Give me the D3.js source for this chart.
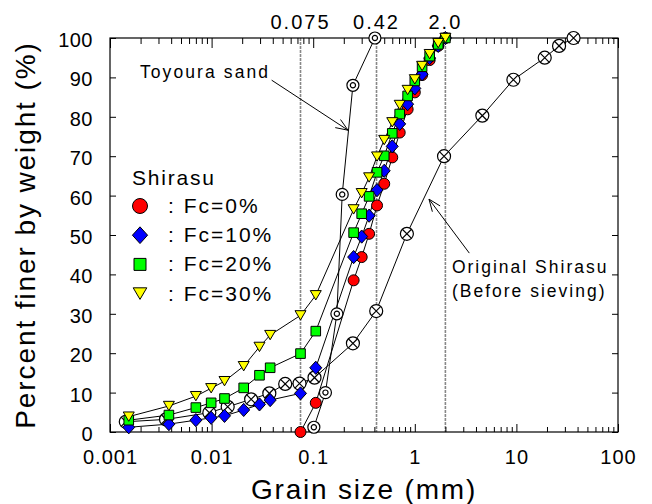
<!DOCTYPE html>
<html>
<head>
<meta charset="utf-8">
<script src="https://cdn.jsdelivr.net/npm/d3@7"></script>
<style>
  body { margin: 0; background: #fff; }
  svg { font-family: "Liberation Sans", Arial, sans-serif; }
  .axis text { font-size: 20px; letter-spacing: 1px; fill: #000; }
  .axis line { stroke: #000; stroke-width: 1; }
  .axis path { display: none; }
  .link { fill: none; stroke: #000; stroke-width: 1; }
  .ref { stroke: #888; stroke-width: 1.6; stroke-dasharray: 3,1; }
</style>
</head>
<body>
<div id="chart"></div>
<script>
var width = 652,
    height = 504,
    plotLeft = 110, plotRight = 618, plotTop = 38, plotBottom = 432;

// sieve openings (mm) used for the Fc samples, and hydrometer sizes below 0.075
var sieveSizes = [2.0, 1.7, 1.4, 1.18, 1.0, 0.85, 0.71, 0.6, 0.5, 0.425, 0.355, 0.3, 0.25, 0.106, 0.075];
var hydroSizes = [0.0377, 0.0296, 0.0207, 0.0134, 0.0099, 0.0070, 0.0038, 0.00153];

var fc0 = [100, 98, 94.4, 90.6, 86.2, 81.9, 76, 69.7, 63, 57.5, 50.3, 44.4, 38.5, 7.4, 0];
var fc10 = [100, 98, 94.9, 90.8, 87.2, 83.2, 78.2, 72.5, 66.3, 61.4, 54.9, 49.6, 44.4, 16.3, 9.8];
var fc20 = [100, 98.4, 95.4, 92.7, 89.1, 85.3, 80.7, 75.8, 70.1, 65.9, 59.8, 55.4, 50.6, 25.6, 19.9];
var fc30 = [100, 98.7, 95.9, 92.9, 89.5, 86.8, 83, 78.6, 74.1, 69.9, 64.6, 60.6, 56.5, 34.7, 29.6];
var fc10Fines = [8.1, 7.0, 5.6, 4.1, 3.6, 3.0, 2.0, 1.2];
var fc20Fines = [16.3, 14.4, 11.2, 8.5, 7.4, 6.2, 4.3, 3.0];
var fc30Fines = [24.6, 21.6, 16.7, 12.9, 11.1, 9.1, 6.6, 3.9];

var toyouraSize = [0.405, 0.246, 0.193, 0.171, 0.132, 0.1015];
var toyouraPass = [100, 88, 60.3, 30, 10, 1.2];

var originalSize = [36.5, 26.3, 19, 9.34, 4.62, 1.94, 0.836, 0.417, 0.246, 0.103, 0.0733, 0.053, 0.037, 0.0245, 0.0144, 0.0095, 0.00356, 0.00143];
var originalPass = [100, 98, 95, 89.4, 80.3, 70, 50.3, 30.7, 22.5, 13.8, 12.3, 12.2, 9.8, 8.3, 6.4, 4.9, 3.2, 2.6];

var refSizes = [0.075, 0.42, 2.0];
var refLabels = ["0.075", "0.42", "2.0"];
var xTicks = [0.001, 0.01, 0.1, 1, 10, 100];
var xTickLabels = ["0.001", "0.01", "0.1", "1", "10", "100"];
var yTicks = [0, 10, 20, 30, 40, 50, 60, 70, 80, 90, 100];

var legendNames = [": Fc=0%", ": Fc=10%", ": Fc=20%", ": Fc=30%"];
var legendColors = ["#ff0000", "#0000ff", "#00ff00", "#ffff00"];
var legendShapes = ["circle", "diamond", "square", "triangle"];

var x = d3.scaleLog().domain([0.001, 100]).range([plotLeft, plotRight]);
var y = d3.scaleLinear().domain([0, 100]).range([plotBottom, plotTop]);

var svg = d3.select("#chart").append("svg")
    .attr("width", width)
    .attr("height", height);

function zip(xs, ys) {
    return xs.map(function (d, i) { return [d, ys[i]]; });
}

function minorTicks() {
    var t = [];
    for (var e = -3; e < 2; e++)
        for (var m = 2; m <= 9; m++) t.push(m * Math.pow(10, e));
    return t;
}

// reference lines at 0.075, 0.42 and 2.0 mm
svg.append("g").selectAll("line")
    .data(refSizes)
  .enter().append("line")
    .attr("class", "ref")
    .attr("x1", function (d) { return x(d); })
    .attr("x2", function (d) { return x(d); })
    .attr("y1", plotTop)
    .attr("y2", plotBottom);

svg.append("g").selectAll("text")
    .data(refSizes)
  .enter().append("text")
    .attr("x", function (d) { return x(d); })
    .attr("y", 29)
    .attr("text-anchor", "middle")
    .style("font-size", "20px")
    .style("letter-spacing", "2px")
    .text(function (d, i) { return refLabels[i]; });

// axes (ticks point inward)
svg.append("g").attr("class", "axis")
    .attr("transform", "translate(0," + plotBottom + ")")
    .call(d3.axisBottom(x).tickValues(xTicks).tickSize(-8).tickSizeOuter(0).tickPadding(18)
        .tickFormat(function (d, i) { return xTickLabels[i]; }));
svg.append("g").attr("class", "axis")
    .attr("transform", "translate(0," + plotBottom + ")")
    .call(d3.axisBottom(x).tickValues(minorTicks()).tickSize(-5).tickSizeOuter(0).tickFormat(""));
svg.append("g").attr("class", "axis")
    .attr("transform", "translate(0," + plotTop + ")")
    .call(d3.axisTop(x).tickValues(xTicks).tickSize(-10).tickSizeOuter(0).tickFormat(""));
svg.append("g").attr("class", "axis")
    .attr("transform", "translate(0," + plotTop + ")")
    .call(d3.axisTop(x).tickValues(minorTicks()).tickSize(-6).tickSizeOuter(0).tickFormat(""));

var yAxis = svg.append("g").attr("class", "axis")
    .attr("transform", "translate(" + plotLeft + ",0)")
    .call(d3.axisLeft(y).tickValues(yTicks).tickSize(-6).tickSizeOuter(0).tickPadding(17));
yAxis.selectAll("text").attr("dy", "0.42em").style("letter-spacing", "0.5px");
svg.append("g").attr("class", "axis")
    .attr("transform", "translate(" + plotRight + ",0)")
    .call(d3.axisRight(y).tickValues(yTicks).tickSize(-6).tickSizeOuter(0).tickFormat(""));

svg.append("rect")
    .attr("x", plotLeft).attr("y", plotTop)
    .attr("width", plotRight - plotLeft).attr("height", plotBottom - plotTop)
    .attr("fill", "none").attr("stroke", "#000").attr("stroke-width", 1.2);

// axis titles
svg.append("text")
    .attr("x", (plotLeft + plotRight) / 2)
    .attr("y", 499)
    .attr("text-anchor", "middle")
    .style("font-size", "28px")
    .style("letter-spacing", "1.8px")
    .text("Grain size (mm)");

svg.append("text")
    .attr("transform", "translate(35," + (plotTop + plotBottom) / 2 + ")rotate(-90)")
    .attr("text-anchor", "middle")
    .style("font-size", "28px")
    .style("letter-spacing", "1.9px")
    .text("Percent finer by weight (%)");

// marker shapes
var shapes = {
    circle: function (r) { return d3.symbol(d3.symbolCircle, Math.PI * r * r)(); },
    square: function (r) { return "M" + -r + "," + -r + "H" + r + "V" + r + "H" + -r + "Z"; },
    diamond: function (r) { return "M0," + -r * 1.1 + "L" + r + ",0L0," + r * 1.1 + "L" + -r + ",0Z"; },
    triangle: function (r) { return "M" + -r + "," + -r * 0.85 + "H" + r + "L0," + r * 0.85 + "Z"; }
};

var line = d3.line()
    .x(function (d) { return x(d[0]); })
    .y(function (d) { return y(d[1]); });

var series = [
    { pts: zip(sieveSizes, fc0), color: legendColors[0], shape: "circle", r: 5.5 },
    { pts: zip(sieveSizes, fc10).concat(zip(hydroSizes, fc10Fines)), color: legendColors[1], shape: "diamond", r: 6 },
    { pts: zip(sieveSizes, fc20).concat(zip(hydroSizes, fc20Fines)), color: legendColors[2], shape: "square", r: 4.8 },
    { pts: zip(sieveSizes, fc30).concat(zip(hydroSizes, fc30Fines)), color: legendColors[3], shape: "triangle", r: 5.5 }
];

var original = zip(originalSize, originalPass);
var toyoura = zip(toyouraSize, toyouraPass);

// lines first
svg.append("g").selectAll("path")
    .data([original, toyoura].concat(series.map(function (s) { return s.pts; })))
  .enter().append("path")
    .attr("class", "link")
    .attr("d", line);

// original Shirasu: circle with a cross
var og = svg.append("g").selectAll("g")
    .data(original)
  .enter().append("g")
    .attr("transform", function (d) { return "translate(" + x(d[0]) + "," + y(d[1]) + ")"; });
og.append("circle").attr("r", 6.5).attr("fill", "#fff").attr("stroke", "#000").attr("stroke-width", 1.2);
og.append("path").attr("d", "M-4.6,-4.6L4.6,4.6M-4.6,4.6L4.6,-4.6").attr("stroke", "#000").attr("stroke-width", 1.2);

// Toyoura sand: double circle
var tg = svg.append("g").selectAll("g")
    .data(toyoura)
  .enter().append("g")
    .attr("transform", function (d) { return "translate(" + x(d[0]) + "," + y(d[1]) + ")"; });
tg.append("circle").attr("r", 6).attr("fill", "#fff").attr("stroke", "#000").attr("stroke-width", 1.2);
tg.append("circle").attr("r", 2.6).attr("fill", "none").attr("stroke", "#000").attr("stroke-width", 1.2);

series.forEach(function (s) {
    svg.append("g").selectAll("path")
        .data(s.pts)
      .enter().append("path")
        .attr("transform", function (d) { return "translate(" + x(d[0]) + "," + y(d[1]) + ")"; })
        .attr("d", shapes[s.shape](s.r))
        .attr("fill", s.color)
        .attr("stroke", "#000")
        .attr("stroke-width", 1);
});

// legend
svg.append("text")
    .attr("x", 132).attr("y", 185)
    .style("font-size", "21px")
    .style("letter-spacing", "1.8px")
    .text("Shirasu");

var legendR = [7.5, 7.6, 6, 6.8];
var legend = svg.append("g").selectAll("g")
    .data(legendNames)
  .enter().append("g")
    .attr("transform", function (d, i) { return "translate(140," + (206 + i * 29.2) + ")"; });
legend.append("path")
    .attr("d", function (d, i) { return shapes[legendShapes[i]](legendR[i]); })
    .attr("fill", function (d, i) { return legendColors[i]; })
    .attr("stroke", "#000")
    .attr("stroke-width", 1);
legend.append("text")
    .attr("x", 28).attr("y", 7)
    .style("font-size", "21px")
    .style("letter-spacing", "2px")
    .text(function (d) { return d; });

// annotations with open arrowheads
function arrow(from, to) {
    var x1 = x(from[0]), y1 = y(from[1]), x2 = x(to[0]), y2 = y(to[1]);
    var a = Math.atan2(y2 - y1, x2 - x1), len = 13, spread = 0.38;
    var g = svg.append("g").attr("stroke", "#000").attr("stroke-width", 1).attr("fill", "none");
    g.append("line").attr("x1", x1).attr("y1", y1).attr("x2", x2).attr("y2", y2);
    g.append("path").attr("d",
        "M" + (x2 - len * Math.cos(a - spread)) + "," + (y2 - len * Math.sin(a - spread)) +
        "L" + x2 + "," + y2 +
        "L" + (x2 - len * Math.cos(a + spread)) + "," + (y2 - len * Math.sin(a + spread)));
}

svg.append("text")
    .attr("x", x(0.00197)).attr("y", y(89.8))
    .style("font-size", "17.5px")
    .style("letter-spacing", "2.1px")
    .text("Toyoura sand");
arrow([0.039, 89.3], [0.22, 76.6]);

var orig = svg.append("text")
    .attr("x", x(2.32)).attr("y", y(40.3))
    .style("font-size", "17.5px")
    .style("letter-spacing", "2px");
orig.append("tspan").text("Original Shirasu");
orig.append("tspan").attr("x", x(2.32)).attr("dy", 23.4).text("(Before sieving)");
arrow([3.44, 45.4], [1.38, 59.1]);
</script>
</body>
</html>
